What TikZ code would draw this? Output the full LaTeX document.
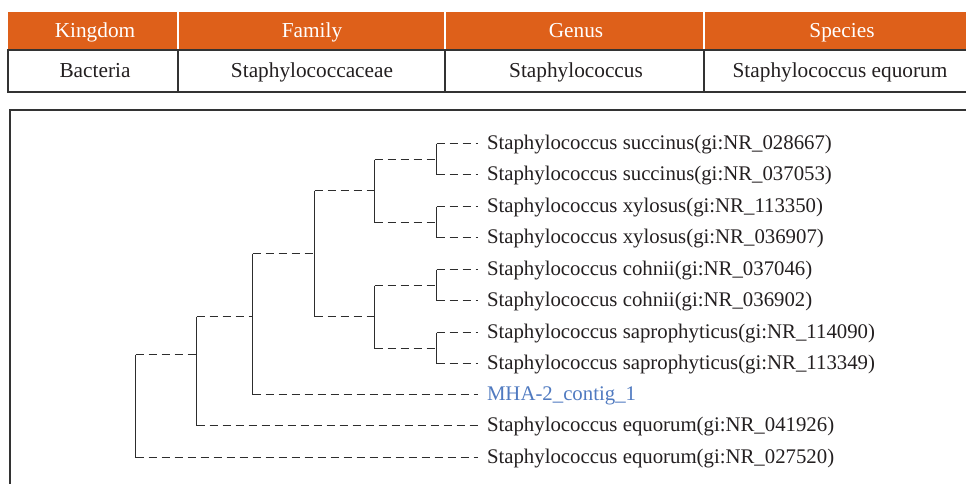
\documentclass[tikz,border=0pt]{standalone}
\usepackage{fontspec}
\setmainfont{Liberation Serif}
\definecolor{hdr}{RGB}{222,96,26}
\definecolor{treeln}{RGB}{45,45,45}
\definecolor{txt}{RGB}{35,31,32}
\definecolor{mha}{RGB}{80,122,192}
\begin{document}
\begin{tikzpicture}[x=1pt,y=-1pt,
  hdrtext/.style={anchor=base,text=white,inner sep=0pt,font=\fontsize{21.3}{24}\selectfont},
  celltext/.style={anchor=base,text=txt,inner sep=0pt,font=\fontsize{21.3}{24}\selectfont},
  leaf/.style={anchor=west,inner xsep=0pt,inner ysep=0pt,outer xsep=9pt,outer ysep=0pt,
    text height=14pt,text depth=2pt,font=\fontsize{20.8}{24}\selectfont,text=txt},
  branch/.style={draw=treeln,line width=1.3pt,dash pattern=on 8pt off 5pt},
  stem/.style={draw=treeln,line width=1.3pt},
  frameln/.style={draw=black!80,line width=1.4pt}]
\useasboundingbox (0,0) rectangle (966,483);
\clip (0,0) rectangle (966,483);
% ---------- table ----------
\fill[hdr] (8,12) rectangle (980,50);
\foreach \cx in {178,445,704} \draw[white,line width=1.5pt] (\cx,12) -- (\cx,50);
\draw[frameln] (8,50) rectangle (980,92);
\foreach \cx in {178,445,704} \draw[frameln] (\cx,50) -- (\cx,92);
\node[hdrtext] (hk) at (95,37.5) {Kingdom};
\node[hdrtext] (hf) at (312,37.5) {Family};
\node[hdrtext] (hg) at (576,37.5) {Genus};
\node[hdrtext] (hs) at (842,37.5) {Species};
\node[celltext] (ck) at (95,77.5) {Bacteria};
\node[celltext] (cf) at (312,77.5) {Staphylococcaceae};
\node[celltext] (cg) at (576,77.5) {Staphylococcus};
\node[celltext] (cs) at (840,77.5) {Staphylococcus equorum};
% ---------- tree frame ----------
\draw[frameln] (10,495) -- (10,110) -- (980,110);
% ---------- leaves ----------
\node[leaf] (l1) at (478,143.5) {Staphylococcus succinus(gi:NR\_028667)};
\node[leaf] (l2) at (478,174.5) {Staphylococcus succinus(gi:NR\_037053)};
\node[leaf] (l3) at (478,206.5) {Staphylococcus xylosus(gi:NR\_113350)};
\node[leaf] (l4) at (478,237.5) {Staphylococcus xylosus(gi:NR\_036907)};
\node[leaf] (l5) at (478,269.5) {Staphylococcus cohnii(gi:NR\_037046)};
\node[leaf] (l6) at (478,300.5) {Staphylococcus cohnii(gi:NR\_036902)};
\node[leaf] (l7) at (478,332.5) {Staphylococcus saprophyticus(gi:NR\_114090)};
\node[leaf] (l8) at (478,363.5) {Staphylococcus saprophyticus(gi:NR\_113349)};
\node[leaf,text=mha] (l9) at (478,394.5) {MHA-2\_contig\_1};
\node[leaf] (l10) at (478,425.5) {Staphylococcus equorum(gi:NR\_041926)};
\node[leaf] (l11) at (478,457.5) {Staphylococcus equorum(gi:NR\_027520)};
% ---------- internal junctions ----------
\coordinate (n1) at (436.5,159.5);
\coordinate (n2) at (436.5,222.5);
\coordinate (n3) at (436.5,285.5);
\coordinate (n4) at (436.5,348.5);
\coordinate (n5) at (374.5,190.5);
\coordinate (n6) at (374.5,316.5);
\coordinate (n7) at (314.5,253.5);
\coordinate (n8) at (252.5,316.5);
\coordinate (n9) at (196.5,354.5);
\coordinate (n10) at (135.5,354.5);
% cherries
\foreach \p/\a/\b in {n1/l1/l2,n2/l3/l4,n3/l5/l6,n4/l7/l8}{
  \draw[stem] (\p |- \a) -- (\p |- \b);
  \draw[branch] (\p |- \a) -- (\a);
  \draw[branch] (\p |- \b) -- (\b);
}
% inner clades
\foreach \p/\a/\b in {n5/n1/n2,n6/n3/n4,n7/n5/n6}{
  \draw[stem] (\p |- \a) -- (\p |- \b);
  \draw[branch] (\p |- \a) -- (\a);
  \draw[branch] (\p |- \b) -- (\b);
}
% n8: n7 and MHA
\draw[stem] (n8 |- n7) -- (n8 |- l9);
\draw[branch] (n8 |- n7) -- (n7);
\draw[branch] (n8 |- l9) -- (l9);
% n9: n8 and equorum 1
\draw[stem] (n9 |- n8) -- (n9 |- l10);
\draw[branch] (n9 |- n8) -- (n8);
\draw[branch] (n9 |- l10) -- (l10);
% root
\draw[stem] (n10 |- n9) -- (n10 |- l11);
\draw[branch] (n10 |- n9) -- (n9);
\draw[branch] (n10 |- l11) -- (l11);
\end{tikzpicture}
\end{document}
